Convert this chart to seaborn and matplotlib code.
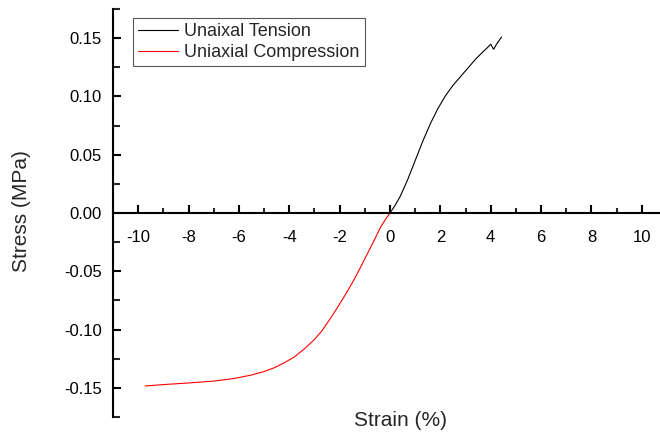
import numpy as np
import pandas as pd
import matplotlib
matplotlib.use("Agg")
import matplotlib.pyplot as plt
import seaborn as sns
from matplotlib.ticker import MultipleLocator, FormatStrFormatter

# ---- data ----
tension_strain = [0.0, 0.2, 0.4, 0.7, 1.0, 1.3, 1.6, 1.9, 2.2, 2.5, 2.8, 3.1, 3.4, 3.7, 3.9, 4.0, 4.07, 4.12, 4.22, 4.43]
tension_stress = [0.0, 0.0065, 0.0140, 0.0285, 0.0450, 0.0615, 0.0765, 0.0895, 0.1005, 0.1095, 0.1170,
                  0.1245, 0.1320, 0.1385, 0.1425, 0.1448, 0.1420, 0.1405, 0.1445, 0.1510]

compression_strain = [-9.72, -9.0, -8.0, -7.0, -6.2, -5.5, -5.0, -4.6, -4.2, -3.8, -3.4, -3.0, -2.7, -2.4,
                      -2.1, -1.8, -1.5, -1.2, -0.9, -0.63, -0.37, -0.15, 0.0]
compression_stress = [-0.1484, -0.1472, -0.1458, -0.1442, -0.1420, -0.1390, -0.1360, -0.1328, -0.1285,
                      -0.1235, -0.1165, -0.1085, -0.1010, -0.0915, -0.0815, -0.0710, -0.0600, -0.0478,
                      -0.0350, -0.0235, -0.0120, -0.0045, 0.0]

series_names = ["Unaixal Tension", "Uniaxial Compression"]
series_colors = ["black", "red"]

x_ticks = [-10, -8, -6, -4, -2, 0, 2, 4, 6, 8, 10]
y_ticks = [-0.15, -0.10, -0.05, 0.00, 0.05, 0.10, 0.15]

df = pd.concat([
    pd.DataFrame({"Strain": tension_strain, "Stress": tension_stress, "Series": series_names[0]}),
    pd.DataFrame({"Strain": compression_strain, "Stress": compression_stress, "Series": series_names[1]}),
], ignore_index=True)

sns.set_style("ticks")
plt.rcParams["font.family"] = ["Liberation Sans", "DejaVu Sans"]
plt.rcParams["axes.unicode_minus"] = False

W, H = 660, 434
fig = plt.figure(figsize=(W / 100, H / 100), dpi=100)
# axes spans x px 113..667 (clipped by figure edge), y px 9..417
ax = fig.add_axes([113 / W, 1 - 417 / H, (667 - 113) / W, (417 - 9) / H])

sns.lineplot(data=df, x="Strain", y="Stress", hue="Series", palette=dict(zip(series_names, series_colors)),
             sort=False, estimator=None, linewidth=0.8, ax=ax, legend=False)

ax.set_xlim(-11, 11)
ax.set_ylim(-0.175, 0.175)

ax.spines["top"].set_visible(False)
ax.spines["right"].set_visible(False)
ax.spines["bottom"].set_position(("data", 0))
for s in ("left", "bottom"):
    ax.spines[s].set_linewidth(1.5)
    ax.spines[s].set_color("black")

ax.set_xticks(x_ticks)
ax.set_xticklabels([str(v) for v in x_ticks])
ax.xaxis.set_minor_locator(MultipleLocator(1))
ax.set_yticks(y_ticks)
ax.yaxis.set_major_formatter(FormatStrFormatter("%.2f"))
ax.yaxis.set_minor_locator(MultipleLocator(0.025))

ax.tick_params(axis="x", which="major", direction="in", length=6, width=1.5, pad=12, labelsize=12, colors="black")
ax.tick_params(axis="x", which="minor", direction="in", length=3.5, width=1.5)
ax.tick_params(axis="y", which="major", direction="in", length=6, width=1.5, pad=8, labelsize=12, colors="black")
ax.tick_params(axis="y", which="minor", direction="in", length=5, width=1.5)

ax.set_xlabel("")
ax.set_ylabel("")
fig.text(400 / W, 1 - 420 / H, "Strain (%)", ha="center", va="center", fontsize=15)
fig.text(22 / W, 1 - 211 / H, "Stress (MPa)", ha="center", va="center", rotation=90, fontsize=15)

handles = [plt.Line2D([], [], color=c, linewidth=0.8) for c in series_colors]
leg = ax.legend(handles, series_names, loc="upper left", bbox_to_anchor=(133 / W, 1 - 18 / H),
                bbox_transform=fig.transFigure, borderaxespad=0, fontsize=13, frameon=True,
                fancybox=False, framealpha=1, edgecolor="#555555", handlelength=2.2,
                handletextpad=0.35, labelspacing=0.2, borderpad=0.3)
leg.get_frame().set_linewidth(0.8)

fig.savefig("out.png", dpi=100)
